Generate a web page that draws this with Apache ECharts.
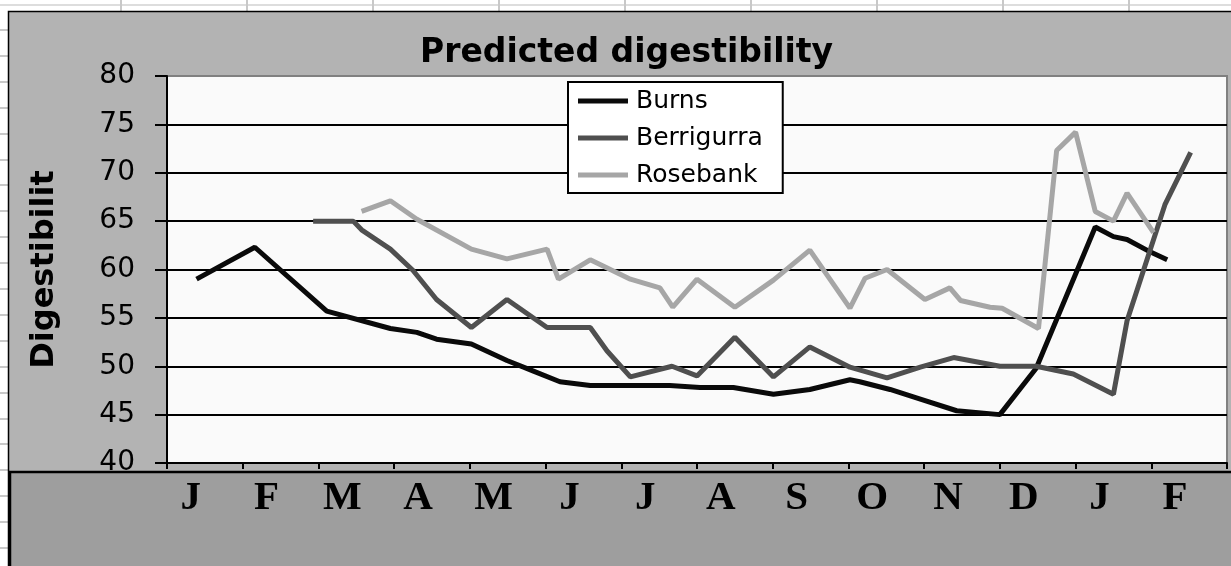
<!DOCTYPE html>
<html>
<head>
<meta charset="utf-8">
<script src="https://cdn.jsdelivr.net/npm/echarts@6/dist/echarts.min.js"></script>
<style>
html,body{margin:0;padding:0;background:#fff;}
#chart{width:1231px;height:566px;}
</style>
</head>
<body>
<div id="chart"></div>
<script>
// ---- data (x = months from start of January, y = predicted digestibility) ----
const monthLabels = ['J','F','M','A','M','J','J','A','S','O','N','D','J','F'];
const yMin = 40, yMax = 80, yStep = 5;

const burnsMonth = [0.39, 1.16, 2.11, 2.95, 3.30, 3.56, 4.02, 4.49, 4.84, 5.19, 5.59, 6.12, 6.64, 7.04, 7.48, 8.01, 8.49, 9.02, 9.15, 9.55, 9.95, 10.43, 11.00, 11.48, 12.02, 12.26, 12.50, 12.68, 12.99, 13.21];
const burnsValue = [59.0, 62.3, 55.7, 53.9, 53.5, 52.8, 52.3, 50.6, 49.5, 48.4, 48.0, 48.0, 48.0, 47.8, 47.8, 47.1, 47.6, 48.6, 48.4, 47.6, 46.6, 45.4, 45.0, 49.8, 59.9, 64.4, 63.4, 63.1, 61.8, 61.0];

const berriMonth = [1.93, 2.46, 2.57, 2.95, 3.25, 3.56, 4.02, 4.49, 5.02, 5.59, 5.81, 6.12, 6.67, 7.00, 7.50, 8.01, 8.49, 9.02, 9.51, 9.95, 10.39, 11.00, 11.48, 11.97, 12.50, 12.68, 13.18, 13.52];
const berriValue = [65.0, 65.0, 64.1, 62.1, 59.9, 56.9, 54.0, 56.9, 54.0, 54.0, 51.6, 48.9, 50.0, 49.0, 53.0, 48.9, 52.0, 49.9, 48.8, 49.9, 50.9, 50.0, 50.0, 49.2, 47.1, 54.7, 66.7, 72.1];

const roseMonth = [2.57, 2.95, 3.30, 4.02, 4.49, 5.02, 5.17, 5.59, 6.12, 6.51, 6.68, 7.00, 7.50, 8.01, 8.49, 9.02, 9.22, 9.51, 10.01, 10.34, 10.48, 10.87, 11.03, 11.51, 11.75, 12.00, 12.26, 12.50, 12.68, 13.03];
const roseValue = [66.0, 67.1, 65.2, 62.1, 61.1, 62.1, 59.0, 61.0, 59.0, 58.1, 56.1, 59.0, 56.1, 58.9, 62.0, 56.0, 59.1, 60.0, 56.9, 58.1, 56.8, 56.1, 56.0, 53.9, 72.3, 74.2, 66.0, 65.0, 67.9, 63.8];

const seriesNames = ['Burns', 'Berrigurra', 'Rosebank'];
const seriesColors = ['#0a0a0a', '#4f4f4f', '#a6a6a6'];

function pairs(xs, ys) { return xs.map((x, i) => [x, ys[i]]); }
const seriesData = [pairs(burnsMonth, burnsValue), pairs(berriMonth, berriValue), pairs(roseMonth, roseValue)];

// ---- decoration (spreadsheet background + chart frame) ----
const graphics = [];
graphics.push({type:'line', silent:true, z:-20, shape:{x1:0, y1:5, x2:1231, y2:5}, style:{stroke:'#d2d2d2', lineWidth:1.5}});
for (let k = 0; k < 10; k++) {
  const gx = 121 + 126 * k;
  graphics.push({type:'line', silent:true, z:-20, shape:{x1:gx, y1:0, x2:gx, y2:11}, style:{stroke:'#c8c8c8', lineWidth:2}});
}
for (let k = 0; k < 21; k++) {
  const gy = Math.round(30 + 25.9 * k);
  graphics.push({type:'line', silent:true, z:-20, shape:{x1:0, y1:gy, x2:8, y2:gy}, style:{stroke:'#c8c8c8', lineWidth:2}});
}
graphics.push({type:'rect', silent:true, z:-10, shape:{x:8.5, y:11.5, width:1260, height:620}, style:{fill:'#b3b3b3', stroke:'#000', lineWidth:1.5}});
graphics.push({type:'rect', silent:true, z:5, shape:{x:10, y:472, width:1260, height:120}, style:{fill:'#9e9e9e', stroke:'#000', lineWidth:2.5}});

const chart = echarts.init(document.getElementById('chart'));
chart.setOption({
  backgroundColor: '#ffffff',
  animation: false,
  graphic: graphics,
  title: {
    text: 'Predicted digestibility',
    left: 420, top: 37, padding: 0,
    textStyle: {fontFamily: 'DejaVu Sans', fontWeight: 'bold', fontSize: 33, color: '#000'}
  },
  legend: {
    orient: 'vertical',
    left: 568, top: 82,
    itemWidth: 50, itemHeight: 5, itemGap: 11,
    icon: 'rect',
    padding: [6, 20, 5, 10],
    backgroundColor: '#ffffff',
    borderColor: '#000', borderWidth: 2,
    textStyle: {fontFamily: 'DejaVu Sans', fontSize: 25, color: '#000', lineHeight: 26, padding: [0, 0, 0, 3]},
    data: seriesNames
  },
  grid: {
    left: 167, top: 76, right: 4, bottom: 103,
    show: true, backgroundColor: '#fafafa', borderColor: '#808080', borderWidth: 2
  },
  xAxis: [
    {
      type: 'category', data: monthLabels, boundaryGap: true, position: 'bottom', z: 10,
      axisLine: {lineStyle: {color: '#000', width: 2}},
      axisTick: {show: true, interval: 0, length: 6, lineStyle: {color: '#000', width: 2}},
      axisLabel: {interval: 0, fontFamily: 'Liberation Serif', fontWeight: 'bold', fontSize: 41, color: '#000', margin: 15, padding: [0, 28, 0, 0]},
      splitLine: {show: false}
    },
    {type: 'value', min: 0, max: 14, show: false}
  ],
  yAxis: {
    type: 'value', min: yMin, max: yMax, interval: yStep,
    name: 'Digestibilit', nameLocation: 'middle', nameGap: 106, nameRotate: 90,
    nameTextStyle: {fontFamily: 'DejaVu Sans', fontWeight: 'bold', fontSize: 32, color: '#000'},
    axisLine: {show: true, lineStyle: {color: '#000', width: 2}},
    axisTick: {show: true, length: 12, lineStyle: {color: '#000', width: 2}},
    axisLabel: {fontFamily: 'DejaVu Sans', fontSize: 28, color: '#000', margin: 32},
    splitLine: {show: true, showMaxLine: false, showMinLine: false, lineStyle: {color: '#000', width: 2}}
  },
  series: seriesNames.map((name, i) => ({
    name: name,
    type: 'line',
    xAxisIndex: 1,
    data: seriesData[i],
    symbol: 'none',
    lineStyle: {color: seriesColors[i], width: 5},
    itemStyle: {color: seriesColors[i]}
  }))
});
</script>
</body>
</html>
